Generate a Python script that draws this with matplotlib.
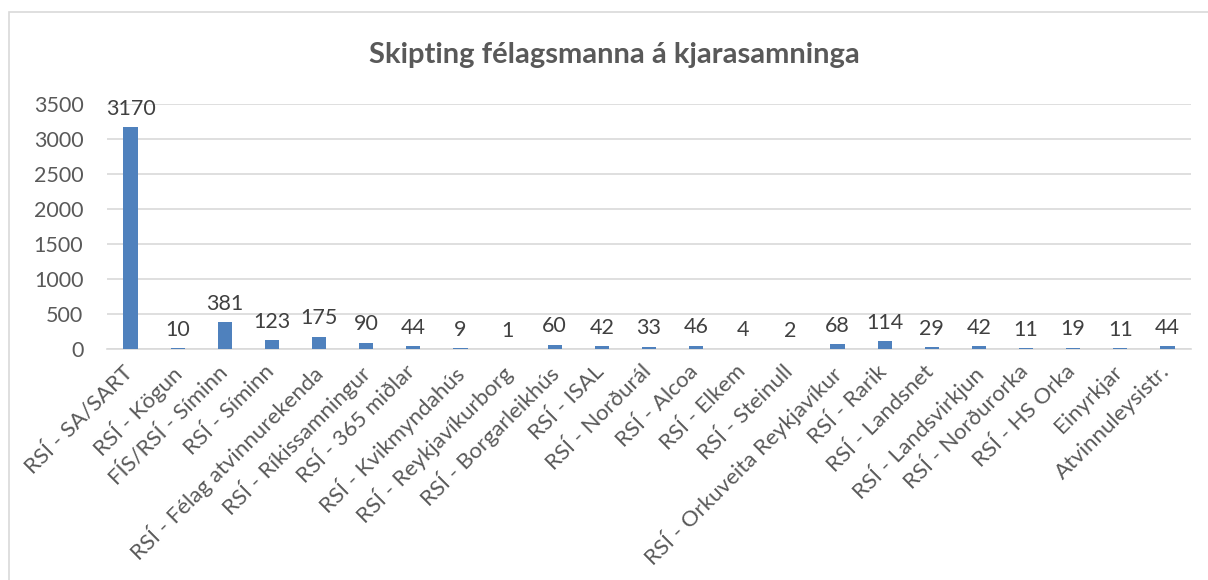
import matplotlib.pyplot as plt
from matplotlib.patches import Rectangle
from matplotlib.transforms import ScaledTranslation

categories = ["RSÍ - SA/SART", "RSÍ - Kögun", "FÍS/RSÍ - Síminn", "RSÍ - Síminn",
              "RSÍ - Félag atvinnurekenda", "RSÍ - Ríkissamningur", "RSÍ - 365 miðlar",
              "RSÍ - Kvikmyndahús", "RSÍ - Reykjavíkurborg", "RSÍ - Borgarleikhús",
              "RSÍ - ISAL", "RSÍ - Norðurál", "RSÍ - Alcoa", "RSÍ - Elkem",
              "RSÍ - Steinull", "RSÍ - Orkuveita Reykjavíkur", "RSÍ - Rarik",
              "RSÍ - Landsnet", "RSÍ - Landsvirkjun", "RSÍ - Norðurorka",
              "RSÍ - HS Orka", "Einyrkjar", "Atvinnuleysistr."]
values = [3170, 10, 381, 123, 175, 90, 44, 9, 1, 60, 42, 33, 46, 4, 2, 68, 114,
          29, 42, 11, 19, 11, 44]
yticks = [0, 500, 1000, 1500, 2000, 2500, 3000, 3500]

plt.rcParams['font.family'] = ['Lato', 'DejaVu Sans']
text_col = '#595959'

fig = plt.figure(figsize=(12.08, 5.8), dpi=100)
fig.patches.append(Rectangle((9 / 1208, -0.1), 1.2, 1 - 12 / 580 + 0.1,
                             transform=fig.transFigure, fill=False,
                             edgecolor='#d9d9d9', linewidth=1.2))
ax = fig.add_axes([107 / 1208, 1 - 349 / 580, (1191 - 107) / 1208, 245 / 580])

x = range(len(categories))
ax.bar(x, values, width=0.3, color='#4f81bd', zorder=3)
for i, v in zip(x, values):
    ax.annotate(str(v), (i, v), xytext=(0, 6), textcoords='offset points',
                ha='center', va='bottom', fontsize=15.5, color='#404040', zorder=4)

ax.set_xlim(-0.5, len(categories) - 0.5)
ax.set_ylim(0, 3500)
ax.set_yticks(yticks)
ax.grid(axis='y', color='#d9d9d9', linewidth=1.2, zorder=0)
for s in ['top', 'right', 'left']:
    ax.spines[s].set_visible(False)
ax.spines['bottom'].set_color('#d9d9d9')
ax.spines['bottom'].set_linewidth(1.2)
ax.tick_params(axis='both', length=0, labelsize=15.5, labelcolor=text_col)
ax.tick_params(axis='y', pad=17)
ax.set_xticks(list(x))
ax.set_xticklabels(categories, rotation=45, ha='right', rotation_mode='anchor',
                   fontsize=16)
ax.tick_params(axis='x', pad=9)
shift = ScaledTranslation(-8 / 100, 0, fig.dpi_scale_trans)
for lbl in ax.get_xticklabels():
    lbl.set_transform(lbl.get_transform() + shift)

fig.text(614 / 1208, 1 - 55 / 580, "Skipting félagsmanna á kjarasamninga", ha='center',
         va='center', fontsize=21, fontweight='bold', color=text_col)

fig.savefig('out.png', dpi=100)
